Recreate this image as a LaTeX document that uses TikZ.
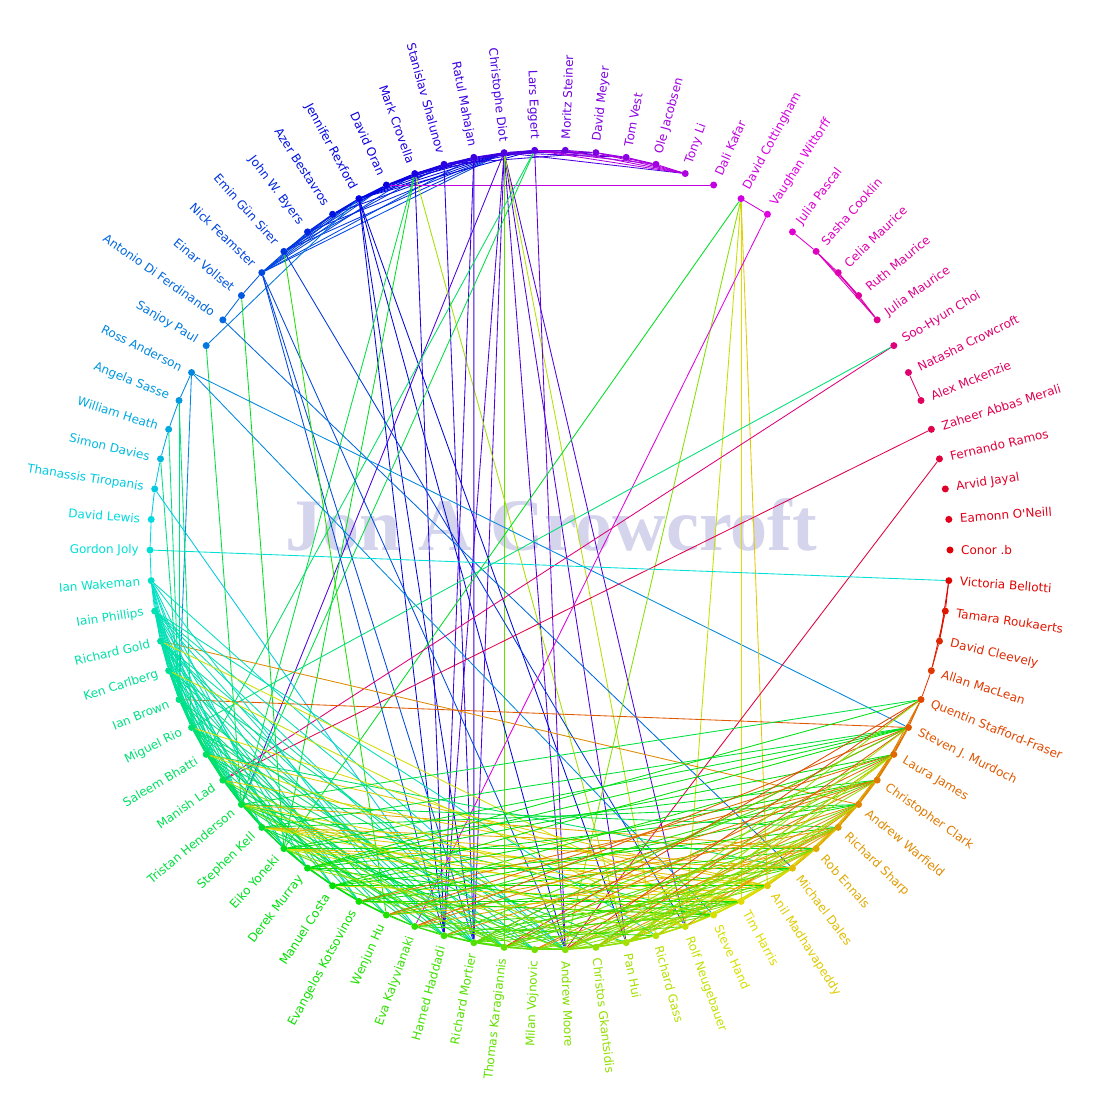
\documentclass[tikz,border=0pt]{standalone}
\usepackage{fontspec}
\newfontfamily\lbl{DejaVu Sans}
\newfontfamily\wmfont{Liberation Serif}
\definecolor{wmc}{RGB}{212,212,236}
\pgfdeclarelayer{wm}
\pgfdeclarelayer{edges}
\pgfsetlayers{wm,edges,main}
\begin{document}
\begin{tikzpicture}[x=1pt,y=-1pt,
  dot/.style={circle,inner sep=0pt,minimum size=7pt},
  lab/.style={inner sep=0pt,font={\lbl\fontsize{12}{14}\selectfont}},
  edge/.style={line width=0.85pt}]
\useasboundingbox (0,0) rectangle (1100,1100);
\begin{pgfonlayer}{wm}
\fill[white] (0,0) rectangle (1100,1100);
\node[anchor=base,inner sep=0pt,text=wmc] (wm) at (551,550) {\wmfont\bfseries\fontsize{74}{74}\selectfont Jon A Crowcroft};
\end{pgfonlayer}
% nodes and labels
\foreach \i/\nm in {1/Lars Eggert,2/Moritz Steiner,3/David Meyer,4/Tom Vest,5/Ole Jacobsen,6/Tony Li,7/Dali Kafar,8/David Cottingham,9/Vaughan Wittorff,10/Julia Pascal,11/Sasha Cooklin,12/Celia Maurice,13/Ruth Maurice,14/Julia Maurice,15/Soo-Hyun Choi,16/Natasha Crowcroft,17/Alex Mckenzie,18/Zaheer Abbas Merali,19/Fernando Ramos,20/Arvid Jayal,21/Eamonn O'Neill,22/Conor .b,23/Victoria Bellotti,24/Tamara Roukaerts,25/David Cleevely,26/Allan MacLean,27/Quentin Stafford-Fraser,28/Steven J. Murdoch,29/Laura James,30/Christopher Clark,31/Andrew Warfield,32/Richard Sharp,33/Rob Ennals,34/Michael Dales,35/Anil Madhavapeddy,36/Tim Harris,37/Steve Hand,38/Rolf Neugebauer,39/Richard Gass,40/Pan Hui,41/Christos Gkantsidis,42/Andrew Moore,43/Milan Vojnovic,44/Thomas Karagiannis,45/Richard Mortier,46/Hamed Haddadi,47/Eva Kalyvianaki,48/Wenjun Hu,49/Evangelos Kotsovinos,50/Manuel Costa,51/Derek Murray,52/Eiko Yoneki,53/Stephen Kell,54/Tristan Henderson,55/Manish Lad,56/Saleem Bhatti,57/Miguel Rio,58/Ian Brown,59/Ken Carlberg,60/Richard Gold,61/Iain Phillips,62/Ian Wakeman,63/Gordon Joly,64/David Lewis,65/Thanassis Tiropanis,66/Simon Davies,67/William Heath,68/Angela Sasse,69/Ross Anderson,70/Sanjoy Paul,71/Antonio Di Ferdinando,72/Einar Vollset,73/Nick Feamster,74/Emin Gün Sirer,75/John W. Byers,76/Azer Bestavros,77/Jennifer Rexford,78/David Oran,79/Mark Crovella,80/Stanislav Shalunov,81/Ratul Mahajan,82/Christophe Diot}{
  \pgfmathsetmacro\ang{(22-\i)*4.390244}
  \pgfmathsetmacro\hue{mod(265+(\i-1)*4.390244,360)/360}
  \definecolor{tmpc}{hsb}{\hue,1,0.88}
  \colorlet{nc}[rgb]{tmpc}
  \pgfmathsetmacro\cs{cos(\ang)}
  \node[dot,fill=nc] (n\i) at ({550+400*cos(\ang)},{550-400*sin(\ang)}) {};
  \ifdim\cs pt>0pt
    \node[lab,text=nc,anchor=west,rotate=\ang] (l\i) at ({550+411*cos(\ang)},{550-411*sin(\ang)}) {\nm};
  \else
    \node[lab,text=nc,anchor=east,rotate=\ang+180] (l\i) at ({550+411*cos(\ang)},{550-411*sin(\ang)}) {\nm};
  \fi
}
\begin{pgfonlayer}{edges}
\foreach \a/\b in {
73/75,73/76,73/77,73/78,73/79,73/81,73/82,
74/76,74/77,74/78,74/80,74/82,
75/76,75/77,75/82,
76/77,76/78,76/79,76/82,
77/78,77/79,77/80,77/81,77/82,77/1,
78/79,78/80,78/81,78/82,
79/80,79/81,79/82,79/1,
80/81,80/82,80/1,80/3,
81/82,81/1,81/2,
82/1,82/2,82/3,82/4,82/6,
2/1,3/1,4/1,5/1,6/1,3/2,6/2,4/3,5/3,6/3,5/4,6/4,6/5,
72/73,71/72,70/77,7/78,
82/54,82/45,82/42,82/40,82/38,82/46,44/82,39/82,
77/46,77/45,77/42,77/40,
79/46,40/79,52/79,54/79,
81/45,81/46,80/45,
56/1,54/1,1/42,
73/42,73/45,73/46,
74/38,48/74,
52/72,54/70,
71/34,
69/28,69/58,69/37,69/68,
8/9,52/8,42/8,38/8,36/8,35/8,
9/47,
10/11,11/12,11/13,11/14,12/13,12/14,13/14,
15/55,57/15,18/55,19/42,63/23,16/17,
23/24,23/25,24/25,24/26,25/26,26/27,
58/68,58/67,58/66,68/67,67/66,57/68,
65/45,65/64,64/63,63/62,65/66,
31/60,28/58,56/34,
62/61,62/60,62/59,62/58,62/57,62/55,62/54,
61/60,61/59,61/58,61/57,61/56,61/55,61/54,
60/59,60/58,60/57,60/56,60/55,60/54,
59/58,59/57,59/56,59/55,59/54,
58/57,58/56,58/55,58/54,
57/56,57/55,57/54,57/53,
56/55,56/54,56/53,
55/54,55/53,54/53,54/52,54/51,53/52,53/51,52/51,52/50,51/50,51/49,50/49,50/48,49/48,49/47,48/47,47/46,46/45,45/44,44/43,43/42,42/41,41/40,40/39,39/38,38/37,37/36,36/35,35/34,34/33,33/32,32/31,31/30,30/29,29/28,28/27,
47/45,46/44,45/43,44/42,43/41,42/40,41/39,40/38,39/37,38/36,37/35,36/34,35/33,34/32,33/31,32/30,31/29,30/28,29/27,
45/42,42/39,38/35,35/32,36/33,37/34,34/31,33/30,32/29,31/28,30/27,
62/52,62/47,62/42,
61/53,61/51,61/49,61/46,61/44,61/42,61/39,
60/52,60/50,60/49,60/46,60/43,60/45,
59/51,59/48,59/45,59/42,
58/50,58/47,58/44,
57/49,57/46,57/43,57/41,
56/48,56/45,56/42,
55/47,55/44,
54/46,54/43,54/40,54/37,
53/45,53/42,
34/53,35/53,36/53,37/53,33/53,
34/52,35/52,36/52,38/52,
33/54,36/54,35/55,
35/56,36/57,37/60,38/59,
34/51,36/50,37/49,35/48,
51/28,51/27,51/29,51/31,51/34,51/37,
52/28,52/30,52/33,
50/28,50/30,50/32,50/35,
49/29,49/31,49/33,49/36,49/37,
53/28,53/31,
54/27,54/32,
48/30,48/34,
28/47,28/45,45/28,28/41,
29/48,46/29,29/44,42/29,29/40,
30/49,30/47,45/30,30/43,41/30,
31/46,44/31,31/42,31/40,31/38,
32/48,45/32,32/43,32/41,32/39,
33/47,33/44,42/33,33/40,
27/44,27/42,
40/28,40/29,40/31,40/34,
41/27,41/33,
42/32,42/36,
39/29,39/31,
45/38,45/36,45/34,
46/37,46/35,
44/36,44/33,
43/35,43/37,
47/36,47/39,
44/52,44/54,43/50,42/52,41/55,40/51,39/54,38/56}{
  \pgfmathsetmacro\hue{mod(265+(\a-1)*4.390244,360)/360}
  \definecolor{tmpe}{hsb}{\hue,1,0.88}
  \colorlet{ec}[rgb]{tmpe}
  \draw[edge,ec] (n\a) -- (n\b);
}
\end{pgfonlayer}
\end{tikzpicture}
\end{document}
